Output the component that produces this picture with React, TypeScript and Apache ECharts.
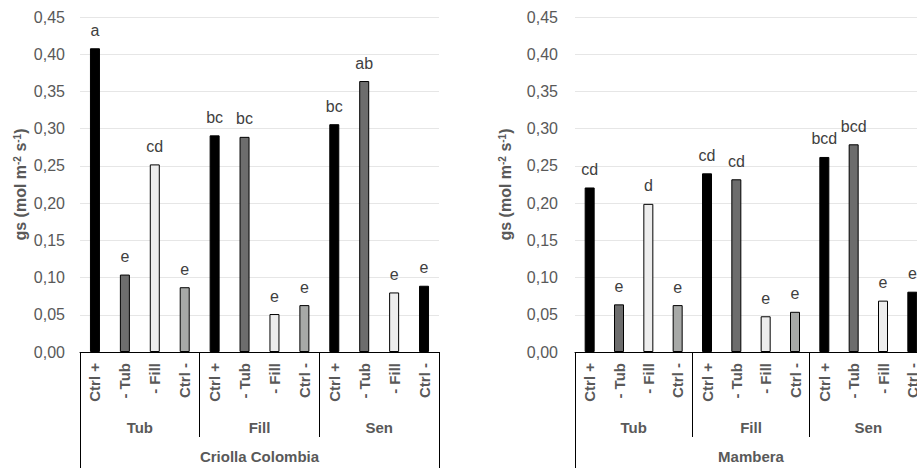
import React, { useEffect, useRef } from "react";
import * as echarts from "echarts";

const treatments = ["Ctrl +", "- Tub", "- Fill", "Ctrl -"];
const stages = ["Tub", "Fill", "Sen"];
const varieties = ["Criolla Colombia", "Mambera"];
const categories = stages.flatMap(() => treatments);

const criollaValues = [0.408, 0.104, 0.252, 0.087, 0.291, 0.289, 0.051, 0.063, 0.306, 0.364, 0.08, 0.089];
const criollaLetters = ["a", "e", "cd", "e", "bc", "bc", "e", "e", "bc", "ab", "e", "e"];
const mamberaValues = [0.221, 0.064, 0.199, 0.063, 0.24, 0.232, 0.048, 0.054, 0.262, 0.279, 0.069, 0.081];
const mamberaLetters = ["cd", "e", "d", "e", "cd", "cd", "e", "e", "bcd", "bcd", "e", "e"];
const barColors = [
  "#000000", "#6d6d6d", "#ededed", "#a7a9a7",
  "#000000", "#6d6d6d", "#ededed", "#a7a9a7",
  "#000000", "#6d6d6d", "#ededed", "#000000",
];
const yTicks = { min: 0, max: 0.45, interval: 0.05 };

const FONT = "'Liberation Sans', Arial, sans-serif";
const GRAY = "#595959";

export default function App() {
  const ref = useRef<HTMLDivElement>(null);
  useEffect(() => {
    if (!ref.current) return;
    const chart = echarts.init(ref.current, null, { renderer: "svg" });
    const grids = [
      { left: 80, top: 17, width: 359, height: 335 },
      { left: 575, top: 17, width: 352, height: 335 },
    ];
    const xAxis: any[] = [];
    const yAxis: any[] = [];
    const series: any[] = [];
    const valueSets = [criollaValues, mamberaValues];
    const letterSets = [criollaLetters, mamberaLetters];
    [0, 1].forEach((g) => {
      xAxis.push({
        type: "category",
        gridIndex: g,
        data: categories,
        position: "bottom",
        axisLine: { show: true, lineStyle: { color: "#000", width: 1 } },
        axisTick: { show: false },
        axisLabel: {
          rotate: 90,
          interval: 0,
          margin: 11,
          fontSize: 15,
          fontWeight: "bold",
          color: GRAY,
          fontFamily: FONT,
        },
      });
      xAxis.push({
        type: "category",
        gridIndex: g,
        data: stages,
        position: "bottom",
        axisLine: { show: false },
        axisTick: { show: true, interval: 0, length: 85, lineStyle: { color: "#000", width: 1 } },
        axisLabel: {
          interval: 0,
          margin: 68,
          fontSize: 15,
          fontWeight: "bold",
          color: GRAY,
          fontFamily: FONT,
        },
      });
      xAxis.push({
        type: "category",
        gridIndex: g,
        data: [varieties[g]],
        position: "bottom",
        axisLine: { show: false },
        axisTick: { show: true, interval: 0, length: 130, lineStyle: { color: "#000", width: 1 } },
        axisLabel: {
          interval: 0,
          margin: 97,
          fontSize: 15,
          fontWeight: "bold",
          color: GRAY,
          fontFamily: FONT,
        },
      });
      yAxis.push({
        type: "value",
        gridIndex: g,
        min: yTicks.min,
        max: yTicks.max,
        interval: yTicks.interval,
        axisLine: { show: false },
        axisTick: { show: false },
        splitLine: { lineStyle: { color: "#e6e6e6", width: 1 } },
        axisLabel: {
          margin: g === 0 ? 15 : 17,
          fontSize: 16,
          color: GRAY,
          fontFamily: FONT,
          formatter: (v: number) => v.toFixed(2).replace(".", ","),
        },
        name: "gs (mol m{sup|-2} s{sup|-1})",
        nameLocation: "middle",
        nameRotate: 90,
        nameGap: g === 0 ? 52 : 62,
        nameTextStyle: {
          fontSize: 16,
          fontWeight: "bold",
          color: GRAY,
          fontFamily: FONT,
          rich: {
            sup: {
              fontSize: 10,
              fontWeight: "bold",
              color: GRAY,
              fontFamily: FONT,
              verticalAlign: "top",
            },
          },
        },
      });
      const vals = valueSets[g];
      const letters = letterSets[g];
      series.push({
        type: "bar",
        xAxisIndex: g * 3,
        yAxisIndex: g,
        barWidth: 10,
        data: vals.map((v, i) => ({
          value: v,
          itemStyle: { color: barColors[i], borderColor: "#000", borderWidth: 1 },
        })),
        label: {
          show: true,
          position: "top",
          distance: 10,
          fontSize: 16,
          color: "#404040",
          fontFamily: FONT,
          formatter: (p: any) => letters[p.dataIndex],
        },
      });
    });
    chart.setOption({
      animation: false,
      backgroundColor: "#ffffff",
      grid: grids,
      xAxis,
      yAxis,
      series,
    });
    return () => chart.dispose();
  }, []);
  return (
    <div
      style={{ position: "absolute", left: 0, top: 0, width: 917, height: 468, overflow: "hidden", background: "#fff" }}
    >
      <div ref={ref} style={{ width: 940, height: 468 }} />
    </div>
  );
}
